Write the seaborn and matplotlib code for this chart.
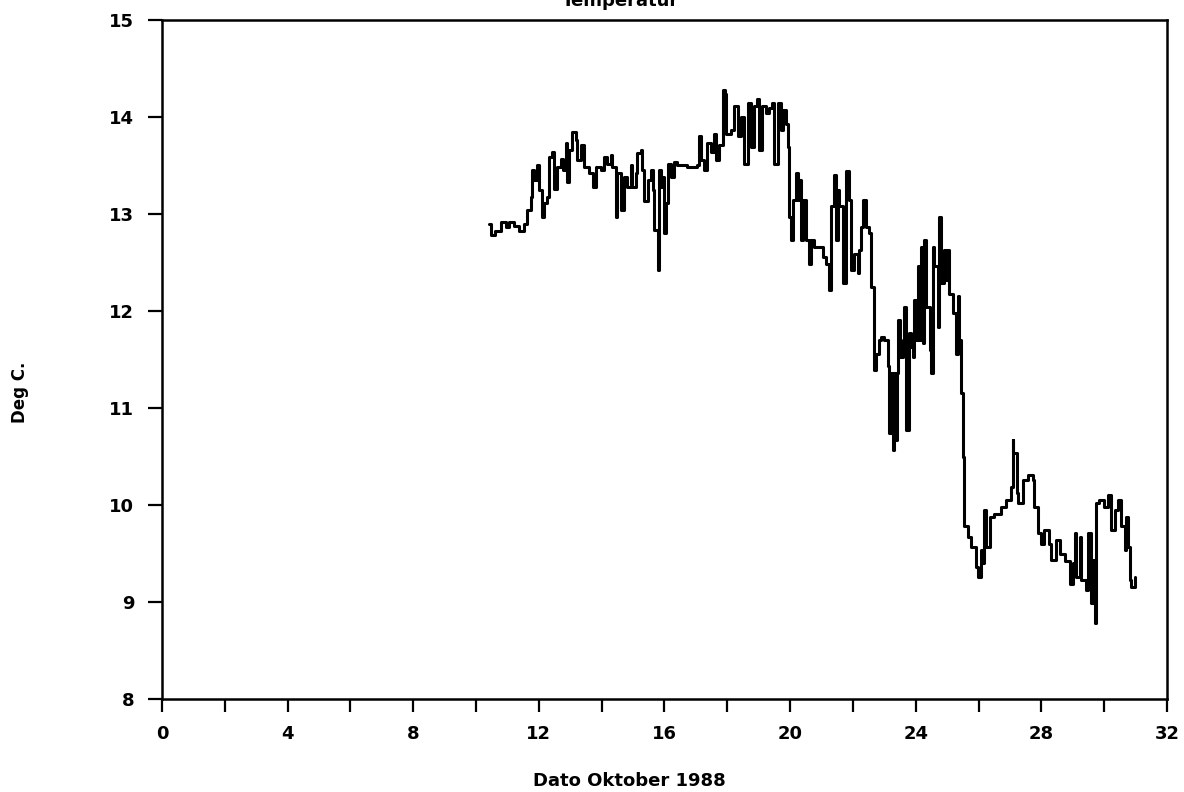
import matplotlib
matplotlib.use("Agg")
import matplotlib.pyplot as plt
import matplotlib.ticker as mticker
import pandas as pd
import seaborn as sns

# Logger record, October 1988: day of month and water temperature (deg C)
days = [
    10.41, 10.47, 10.62, 10.78, 10.94, 11.05, 11.21, 11.37, 11.53, 11.63,
    11.74, 11.79, 11.85, 11.93, 12.01, 12.11, 12.17, 12.27, 12.33, 12.43,
    12.48, 12.59, 12.70, 12.78, 12.85, 12.91, 12.96, 13.07, 13.17, 13.23,
    13.33, 13.44, 13.60, 13.71, 13.81, 13.97, 14.08, 14.18, 14.29, 14.34,
    14.45, 14.50, 14.61, 14.71, 14.82, 14.93, 14.98, 15.09, 15.14, 15.25,
    15.30, 15.35, 15.46, 15.56, 15.62, 15.67, 15.78, 15.83, 15.88, 15.94,
    15.99, 16.04, 16.10, 16.20, 16.31, 16.41, 16.73, 17.05, 17.10, 17.15,
    17.26, 17.37, 17.48, 17.58, 17.64, 17.74, 17.85, 17.92, 17.95, 18.11,
    18.22, 18.33, 18.43, 18.54, 18.65, 18.75, 18.86, 18.96, 19.01, 19.12,
    19.23, 19.34, 19.44, 19.50, 19.60, 19.71, 19.76, 19.87, 19.92,
    19.97, 20.03, 20.08, 20.19, 20.24, 20.29, 20.35, 20.40, 20.50, 20.61,
    20.66, 20.77, 20.93, 21.04, 21.14, 21.25, 21.30, 21.41, 21.46, 21.51,
    21.56, 21.67, 21.78, 21.89, 21.94, 22.04, 22.15, 22.20, 22.26, 22.31,
    22.42, 22.52, 22.58, 22.68, 22.73, 22.84, 22.89, 23.00, 23.11, 23.16,
    23.21, 23.27, 23.32, 23.37, 23.40, 23.45, 23.50, 23.59, 23.64, 23.69,
    23.80, 23.85, 23.90, 23.96, 24.01, 24.06, 24.12, 24.17, 24.22, 24.28,
    24.33, 24.44, 24.49, 24.54, 24.59, 24.70, 24.75, 24.81, 24.91, 24.97,
    25.02, 25.07, 25.18, 25.28, 25.34, 25.39, 25.44, 25.50, 25.55, 25.66,
    25.76, 25.92, 25.98, 26.08, 26.13, 26.19, 26.24, 26.35, 26.50,
    26.72, 26.88, 27.04, 27.09, 27.11, 27.23, 27.26, 27.41, 27.57, 27.73,
    27.78, 27.89, 27.99, 28.10, 28.21, 28.26, 28.31, 28.47, 28.58, 28.74,
    28.90, 29.00, 29.06, 29.11, 29.22, 29.27, 29.37, 29.43, 29.48, 29.59,
    29.64, 29.70, 29.75, 29.85, 30.01, 30.12, 30.22, 30.33, 30.44, 30.54,
    30.65, 30.70, 30.76, 30.81, 30.86, 30.97,
]
temps = [
    12.90, 12.78, 12.82, 12.92, 12.87, 12.92, 12.88, 12.82, 12.90, 13.04,
    13.18, 13.45, 13.35, 13.51, 13.25, 12.97, 13.11, 13.18, 13.59, 13.64,
    13.26, 13.49, 13.57, 13.45, 13.73, 13.33, 13.66, 13.85, 13.76, 13.56,
    13.71, 13.49, 13.42, 13.28, 13.49, 13.45, 13.59, 13.52, 13.61, 13.49,
    12.97, 13.42, 13.04, 13.38, 13.28, 13.51, 13.28, 13.42, 13.63, 13.66,
    13.45, 13.13, 13.35, 13.45, 13.25, 12.84, 12.42, 13.45, 13.28, 13.38,
    12.80, 13.11, 13.52, 13.38, 13.54, 13.51, 13.49, 13.51, 13.80, 13.56,
    13.45, 13.73, 13.64, 13.83, 13.56, 13.71, 14.28, 14.24, 13.83, 13.87,
    14.11, 13.80, 14.00, 13.52, 14.14, 13.69, 14.11, 14.19, 13.66, 14.11,
    14.04, 14.09, 14.14, 13.52, 14.14, 13.87, 14.07, 13.93, 13.69,
    12.97, 12.73, 13.14, 13.42, 13.14, 13.35, 12.73, 13.14, 12.73, 12.49,
    12.73, 12.66, 12.66, 12.56, 12.49, 12.22, 13.08, 13.40, 12.73, 13.25,
    13.08, 12.29, 13.44, 13.14, 12.42, 12.59, 12.39, 12.63, 12.87, 13.14,
    12.87, 12.80, 12.25, 11.39, 11.56, 11.70, 11.73, 11.70, 11.43, 10.74,
    11.36, 10.57, 11.36, 10.67, 11.36, 11.91, 11.53, 11.70, 12.04, 10.77,
    11.77, 11.63, 11.53, 12.11, 11.70, 12.46, 11.70, 12.66, 11.67, 12.73,
    12.04, 11.60, 11.36, 12.66, 12.46, 11.84, 12.97, 12.29, 12.63, 12.32,
    12.63, 12.18, 11.98, 11.56, 12.15, 11.70, 11.15, 10.50, 9.78, 9.67,
    9.57, 9.36, 9.26, 9.54, 9.40, 9.95, 9.57, 9.88, 9.91,
    9.98, 10.05, 10.19, 10.67, 10.54, 10.12, 10.02, 10.26, 10.31, 10.26,
    9.98, 9.71, 9.60, 9.74, 9.74, 9.60, 9.43, 9.64, 9.50, 9.42,
    9.19, 9.40, 9.71, 9.26, 9.67, 9.23, 9.23, 9.12, 9.71, 8.99,
    9.43, 8.78, 10.02, 10.05, 9.98, 10.10, 9.74, 9.95, 10.05, 9.78,
    9.54, 9.88, 9.57, 9.23, 9.16, 9.26,
]

x_ticks = [0, 4, 8, 12, 16, 20, 24, 28, 32]
x_minor = [2, 6, 10, 14, 18, 22, 26, 30]
y_ticks = [8, 9, 10, 11, 12, 13, 14, 15]

title = "Temperatur"
x_label = "Dato Oktober 1988"
y_label = "Deg C."

df = pd.DataFrame({"day": days, "temp": temps})

sns.set_theme(style="ticks")
plt.rcParams["font.family"] = ["DejaVu Sans"]

fig = plt.figure(figsize=(11.84, 7.92), dpi=100)
ax = fig.add_axes([0.1368, 0.1174, 0.8488, 0.8573])

sns.lineplot(data=df, x="day", y="temp", color="black", linewidth=2.2,
             estimator=None, sort=False, drawstyle="steps-post", ax=ax)

ax.set_xlim(0, 32)
ax.set_ylim(8, 15)
ax.set_xticks(x_ticks)
ax.set_xticklabels([str(v) for v in x_ticks])
ax.xaxis.set_minor_locator(mticker.FixedLocator(x_minor))
ax.set_yticks(y_ticks)
ax.set_yticklabels([str(v) for v in y_ticks])
ax.set_xlabel("")
ax.set_ylabel("")

for side in ["left", "right", "top", "bottom"]:
    ax.spines[side].set_visible(True)
    ax.spines[side].set_color("black")
    ax.spines[side].set_linewidth(1.8)

ax.tick_params(axis="x", which="both", direction="out", length=9, width=1.6,
               color="black", pad=10, labelsize=13, labelcolor="black")
ax.tick_params(axis="y", which="major", direction="out", length=10, width=1.6,
               color="black", pad=10, labelsize=13, labelcolor="black")
ax.tick_params(top=False, right=False)
for lbl in ax.get_xticklabels() + ax.get_yticklabels():
    lbl.set_fontweight("bold")

fig.text(620 / 1184, 1 - 6 / 792, title, ha="center", va="baseline",
         fontsize=13, fontweight="bold", color="black")
fig.text(629 / 1184, 1 - 781 / 792, x_label, ha="center", va="center",
         fontsize=13, fontweight="bold", color="black")
fig.text(20 / 1184, 1 - 392 / 792, y_label, ha="center", va="center",
         rotation=90, fontsize=12, fontweight="bold", color="black")

fig.savefig("out.png", dpi=100, facecolor="white")
